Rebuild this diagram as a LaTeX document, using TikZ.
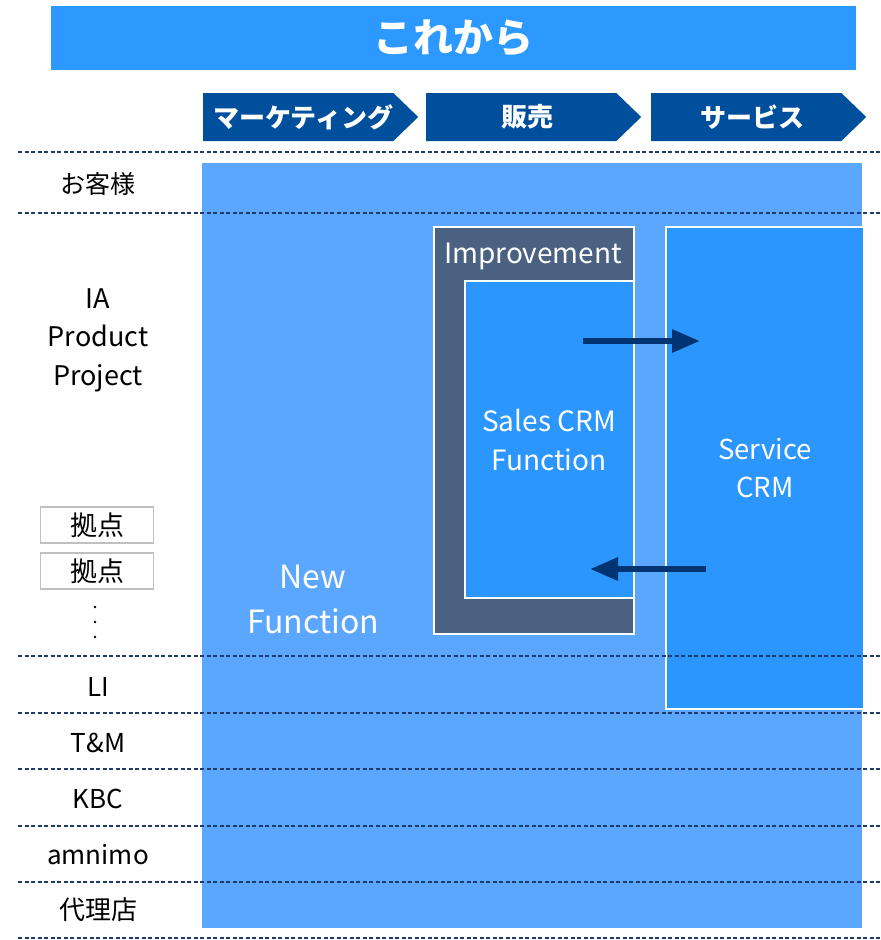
\documentclass[tikz,border=0pt]{standalone}
\usepackage{fontspec}
\setmainfont{Noto Sans CJK JP}
\usetikzlibrary{shapes.symbols,arrows.meta}
\definecolor{titleblue}{HTML}{2B99FF}
\definecolor{chevblue}{HTML}{004F9C}
\definecolor{bgblue}{HTML}{5BA6FE}
\definecolor{boxblue}{HTML}{2A96FE}
\definecolor{slate}{HTML}{4B6182}
\definecolor{navy}{HTML}{003473}
\definecolor{dashnavy}{HTML}{1F3A6B}
\tikzset{
  stage/.style={signal, signal to=east, signal pointer angle=88, fill=chevblue,
    minimum width=215, minimum height=48, inner sep=0, anchor=west,
    text=white, font=\fontsize{26}{30}\bfseries\selectfont},
  box/.style={draw=white, line width=1.5pt, anchor=north west, inner sep=0},
  rowlabel/.style={font=\fontsize{26}{30}\selectfont, align=center},
  sep/.style={draw=dashnavy, dash pattern=on 4pt off 2.5pt, line width=1.2pt},
  flow/.style={draw=navy, line width=6pt, -{Triangle[length=28pt,width=22pt]}},
  sitebox/.style={draw=black!25, line width=1.5pt, minimum width=113, minimum height=36,
    inner sep=0, font=\fontsize{27}{30}\selectfont}
}
\begin{document}
\begin{tikzpicture}[x=1pt,y=-1pt]
\useasboundingbox (0,0) rectangle (881,940);
% title bar
\node[fill=titleblue, minimum width=805, minimum height=64, inner sep=0, anchor=north west,
  text=white, font=\fontsize{40}{44}\bfseries\selectfont] (title) at (51,6) {これから};
% value chain stages
\node[stage] (mkt) at (203,117) {\hspace*{10pt}マーケティング};
\node[stage] (sales) at (426,117) {\hspace*{12pt}販売};
\node[stage] (svc) at (651,117) {\hspace*{12pt}サービス};
% background area
\node[fill=bgblue, minimum width=660, minimum height=765, inner sep=0, anchor=north west] (area) at (202,163) {};
% improvement block
\node[box, fill=slate, minimum width=200, minimum height=407] (impr) at (433,226) {};
\node[text=white, font=\fontsize{28}{30}\selectfont] (imprlbl) at (533,256) {Improvement};
\node[box, fill=boxblue, minimum width=169, minimum height=317] (scrm) at (464,280) {};
\node[text=white, align=center, font=\fontsize{28}{39}\selectfont] (scrmlbl) at (549,440) {Sales CRM\\Function};
% service CRM
\node[box, fill=boxblue, minimum width=198, minimum height=482] (svcrm) at (665,226) {};
\node[text=white, align=center, font=\fontsize{27.5}{38}\selectfont] (svlbl) at (765,468) {Service\\CRM};
% new function
\node[text=white, align=center, font=\fontsize{32}{45}\selectfont] (newf) at (313,599) {New\\Function};
% exchange arrows
\coordinate (a1s) at (583,341);
\coordinate (a1e) at (700,341);
\coordinate (a2s) at (706,569);
\coordinate (a2e) at (590,569);
\draw[flow] (a1s) -- (a1e);
\draw[flow] (a2s) -- (a2e);
% row separators
\foreach \yy [count=\i] in {152,213,656,713,769,826,882,938} {
  \coordinate (l\i) at (18,\yy);
  \coordinate (r\i) at (881,\yy);
  \draw[sep] (l\i) -- (r\i);
}
% row labels
\node[rowlabel, font=\fontsize{25}{30}\selectfont] (cust) at (98,184) {お客様};
\node[align=center, font=\fontsize{27}{38.5}\selectfont] (ia) at (98,340) {IA\\Product\\Project};
\node[sitebox] (site1) at (97,525) {拠点};
\node[sitebox] (site2) at (97,571) {拠点};
\foreach \yy [count=\i] in {607,622,637} \fill (95,\yy) circle (1.3) coordinate (d\i);
\node[rowlabel] (li) at (98,687) {LI};
\node[rowlabel] (tm) at (98,743) {T\&M};
\node[rowlabel] (kbc) at (98,799) {KBC};
\node[rowlabel] (amn) at (98,855) {amnimo};
\node[rowlabel, font=\fontsize{26}{30}\selectfont] (agent) at (98,910) {代理店};
\end{tikzpicture}
\end{document}
